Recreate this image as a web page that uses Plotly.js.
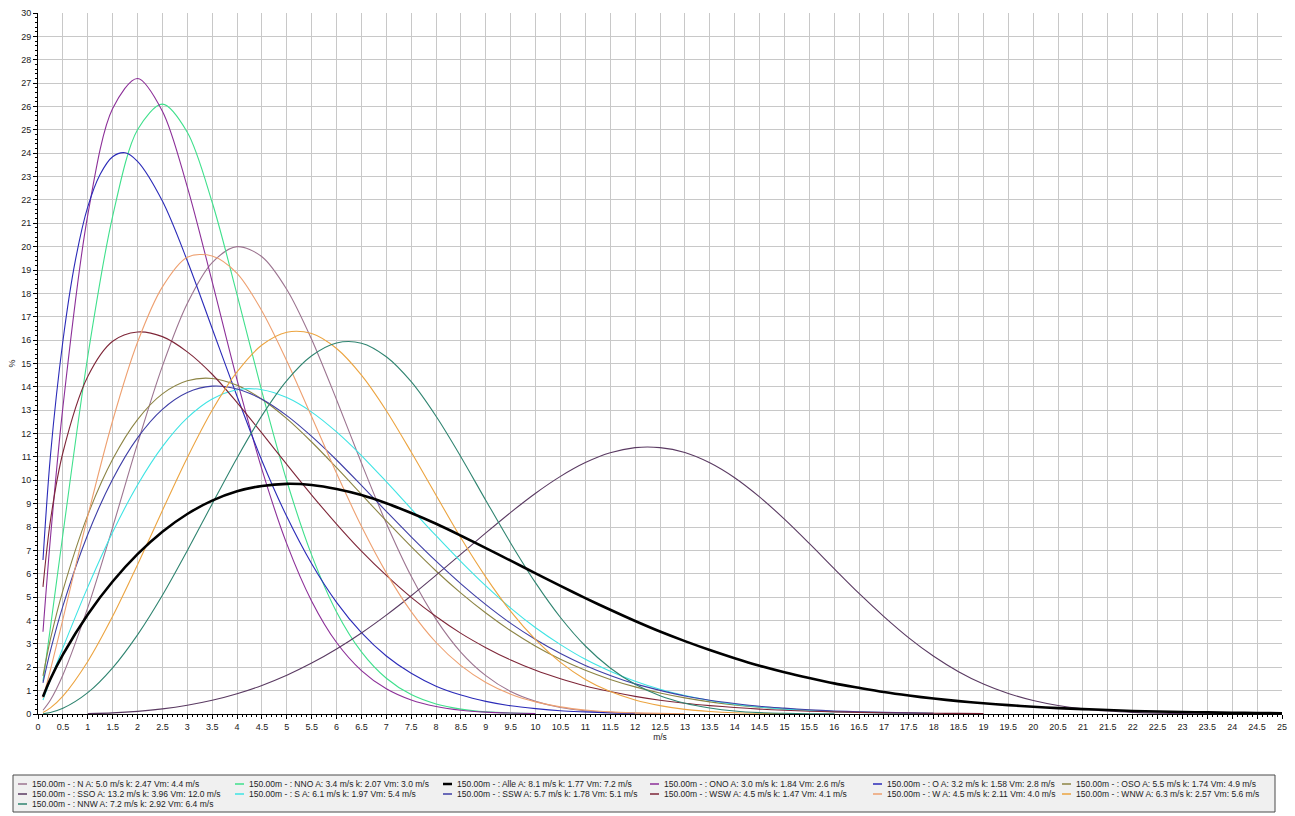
<!DOCTYPE html>
<html>
<head>
<meta charset="utf-8">
<script src="https://cdn.plot.ly/plotly-3.0.1.min.js"></script>
<style>
html,body{margin:0;padding:0;background:#fff;}
#chart{width:1295px;height:816px;}
</style>
</head>
<body>
<div id="chart"></div>
<script>
// Wind speed grid (m/s) shared by most series
const windSpeed = [0.1, 0.25, 0.5, 1, 1.5, 2, 2.5, 3, 3.5, 4, 4.5, 5, 5.5, 6, 6.5, 7, 7.5, 8, 8.5, 9, 9.5, 10,
  10.5, 11, 11.5, 12, 12.5, 13, 13.5, 14, 14.5, 15, 15.5, 16, 16.5, 17, 17.5, 18, 18.5, 19, 19.5, 20,
  20.5, 21, 21.5, 22, 22.5, 23, 23.5, 24, 24.5, 25];
const windSpeedO = [0.1, 0.25, 0.5, 0.75, 1, 1.25, 1.5, 1.75, 2, 2.5, 3, 3.5, 4, 4.5, 5, 5.5, 6, 6.5, 7, 7.5,
  8, 8.5, 9, 9.5, 10, 10.5, 11, 11.5, 12];
const windSpeedSSO = [1, 1.5, 2, 2.5, 3, 3.5, 4, 4.5, 5, 5.5, 6, 6.5, 7, 7.5, 8, 8.5, 9, 9.5, 10, 10.5, 11,
  11.5, 12, 12.5, 13, 13.5, 14, 14.5, 15, 15.5, 16, 16.5, 17, 17.5, 18, 18.5, 19, 19.5, 20, 20.5, 21,
  21.5, 22, 22.5, 23, 23.5, 24];

// Frequency (%) per direction
const freqN   = [0.16, 0.60, 1.67, 4.55, 7.99, 11.57, 14.89, 17.57, 19.32, 20.0, 19.57, 18.17, 16.03, 13.45, 10.74, 8.16, 5.89, 4.05, 2.64, 1.64, 0.96, 0.54, 0.28, 0.14, 0.07, 0.03, 0.01];
const freqNNO = [1.40, 3.71, 7.68, 15.3, 21.3, 25.0, 26.1, 24.9, 21.9, 17.95, 13.8, 9.97, 6.80, 4.37, 2.66, 1.53, 0.83, 0.43, 0.21, 0.09, 0.04, 0.02];
const freqAlle = [0.74, 1.50, 2.54, 4.26, 5.67, 6.84, 7.80, 8.56, 9.13, 9.53, 9.76, 9.85, 9.80, 9.63, 9.37, 9.02, 8.60, 8.14, 7.63, 7.10, 6.56, 6.02, 5.48, 4.96, 4.46, 3.98, 3.53, 3.12, 2.74, 2.39, 2.07, 1.79, 1.54, 1.31, 1.12, 0.94, 0.79, 0.66, 0.55, 0.46, 0.38, 0.31, 0.25, 0.21, 0.17, 0.13, 0.105, 0.086, 0.068, 0.054, 0.042, 0.033];
const freqONO = [3.52, 7.53, 13.12, 21.35, 25.91, 27.2, 25.8, 22.56, 18.50, 14.30, 10.47, 7.28, 4.83, 3.06, 1.86, 1.08, 0.60, 0.32, 0.16, 0.08, 0.04, 0.02];
const freqO   = [6.59, 11.05, 15.95, 19.4, 21.7, 23.1, 23.85, 24.02, 23.65, 21.95, 19.4, 16.5, 13.6, 10.84, 8.45, 6.43, 4.78, 3.48, 2.48, 1.74, 1.19, 0.81, 0.54, 0.35, 0.23, 0.14, 0.09, 0.05, 0.03];
const freqOSO = [1.63, 3.20, 5.28, 8.51, 10.90, 12.60, 13.70, 14.26, 14.36, 14.07, 13.47, 12.64, 11.64, 10.54, 9.40, 8.26, 7.16, 6.12, 5.17, 4.32, 3.56, 2.90, 2.34, 1.87, 1.48, 1.16, 0.90, 0.69, 0.52, 0.39, 0.29, 0.22, 0.16, 0.11, 0.08, 0.06, 0.045, 0.03];
const freqSSO = [0.015, 0.048, 0.113, 0.218, 0.373, 0.586, 0.868, 1.223, 1.659, 2.178, 2.782, 3.468, 4.232, 5.06, 5.94, 6.84, 7.75, 8.63, 9.45, 10.17, 10.76, 11.18, 11.40, 11.40, 11.19, 10.75, 10.11, 9.29, 8.34, 7.30, 6.22, 5.16, 4.17, 3.26, 2.47, 1.81, 1.28, 0.876, 0.575, 0.363, 0.22, 0.128, 0.071, 0.037, 0.018, 0.008, 0.003];
const freqS   = [0.60, 1.46, 2.83, 5.43, 7.78, 9.80, 11.44, 12.67, 13.48, 13.88, 13.88, 13.54, 12.92, 12.07, 11.06, 9.94, 8.78, 7.63, 6.52, 5.48, 4.53, 3.69, 2.97, 2.34, 1.83, 1.40, 1.06, 0.79, 0.58, 0.42, 0.30, 0.21, 0.15, 0.10, 0.07, 0.05, 0.035, 0.02];
const freqSSW = [1.33, 2.71, 4.62, 7.68, 10.05, 11.82, 13.04, 13.76, 14.03, 13.91, 13.47, 12.77, 11.88, 10.87, 9.78, 8.67, 7.58, 6.54, 5.57, 4.68, 3.88, 3.19, 2.59, 2.08, 1.65, 1.29, 1.01, 0.77, 0.59, 0.45, 0.33, 0.25, 0.18, 0.13, 0.095, 0.07, 0.05, 0.035];
const freqWSW = [5.44, 8.28, 11.18, 14.44, 15.95, 16.35, 16.15, 15.5, 14.54, 13.33, 12.02, 10.68, 9.37, 8.13, 6.97, 5.93, 4.99, 4.17, 3.45, 2.84, 2.31, 1.87, 1.51, 1.20, 0.96, 0.755, 0.59, 0.46, 0.36, 0.28, 0.21, 0.16, 0.12, 0.093, 0.07, 0.05, 0.04, 0.03, 0.025, 0.02];
const freqW   = [0.69, 1.89, 4.05, 8.47, 12.55, 15.91, 18.28, 19.55, 19.60, 18.86, 17.25, 15.11, 12.72, 10.30, 8.03, 6.04, 4.38, 3.06, 2.07, 1.35, 0.85, 0.52, 0.305, 0.17, 0.09, 0.05, 0.025, 0.01];
const freqWNW = [0.061, 0.26, 0.763, 2.25, 4.18, 6.39, 8.71, 10.97, 13.00, 14.64, 15.79, 16.34, 16.28, 15.64, 14.50, 12.98, 11.21, 9.36, 7.53, 5.86, 4.39, 3.18, 2.21, 1.48, 0.96, 0.60, 0.36, 0.20, 0.11, 0.055, 0.03, 0.01];
const freqNNW = [0.011, 0.064, 0.242, 0.913, 1.976, 3.387, 5.08, 6.99, 8.99, 10.96, 12.77, 14.27, 15.33, 15.88, 15.87, 15.29, 14.22, 12.74, 11.00, 9.14, 7.31, 5.61, 4.13, 2.91, 1.97, 1.27, 0.78, 0.46, 0.26, 0.13, 0.06, 0.03, 0.01, 0.005];

const legendNames = [
  '150.00m - : N A: 5.0 m/s k: 2.47 Vm: 4.4 m/s',
  '150.00m - : NNO A: 3.4 m/s k: 2.07 Vm: 3.0 m/s',
  '150.00m - : Alle A: 8.1 m/s k: 1.77 Vm: 7.2 m/s',
  '150.00m - : ONO A: 3.0 m/s k: 1.84 Vm: 2.6 m/s',
  '150.00m - : O A: 3.2 m/s k: 1.58 Vm: 2.8 m/s',
  '150.00m - : OSO A: 5.5 m/s k: 1.74 Vm: 4.9 m/s',
  '150.00m - : SSO A: 13.2 m/s k: 3.96 Vm: 12.0 m/s',
  '150.00m - : S A: 6.1 m/s k: 1.97 Vm: 5.4 m/s',
  '150.00m - : SSW A: 5.7 m/s k: 1.78 Vm: 5.1 m/s',
  '150.00m - : WSW A: 4.5 m/s k: 1.47 Vm: 4.1 m/s',
  '150.00m - : W A: 4.5 m/s k: 2.11 Vm: 4.0 m/s',
  '150.00m - : WNW A: 6.3 m/s k: 2.57 Vm: 5.6 m/s',
  '150.00m - : NNW A: 7.2 m/s k: 2.92 Vm: 6.4 m/s'
];
const seriesValues = [freqN, freqNNO, freqAlle, freqONO, freqO, freqOSO, freqSSO, freqS, freqSSW, freqWSW, freqW, freqWNW, freqNNW];
const seriesColors = ['#9c7490', '#3fe08c', '#000000', '#8c2f98', '#2a2ab8', '#8c8444', '#5a3a62', '#3ee4e4', '#3e3ea6', '#7e2638', '#eea070', '#eca440', '#2f8470'];

const traces = seriesValues.map((vals, i) => {
  let xs;
  if (i === 6) xs = windSpeedSSO;
  else if (i === 4) xs = windSpeedO;
  else xs = windSpeed.slice(0, vals.length);
  return {
    type: 'scatter', mode: 'lines',
    x: xs, y: vals,
    name: legendNames[i],
    showlegend: false,
    line: {color: seriesColors[i], width: i === 2 ? 2.6 : 1.1, shape: 'spline', smoothing: 0.9}
  };
});
// draw the "Alle" curve on top
const ordered = traces.filter((t, i) => i !== 2).concat([traces[2]]);

// ---- custom legend box (pixel layout converted to paper coords) ----
const M = {l: 38, r: 13, t: 13, b: 102};
const W = 1295, H = 816;
const pw = W - M.l - M.r, ph = H - M.t - M.b;
const px = v => (v - M.l) / pw;
const py = v => (H - M.b - v) / ph;
const colX = [18, 235, 443, 650, 873, 1062];
const rowY = [784, 794, 804];

const shapes = [{
  type: 'rect', xref: 'paper', yref: 'paper',
  x0: px(13), x1: px(1275), y0: py(775), y1: py(812),
  fillcolor: '#f0f0f0', line: {color: '#4a4a4a', width: 1}, layer: 'below'
}];
const annotations = [];
legendNames.forEach((name, i) => {
  const c = i % 6, r = Math.floor(i / 6);
  const x0 = colX[c], y0 = rowY[r];
  shapes.push({
    type: 'line', xref: 'paper', yref: 'paper',
    x0: px(x0), x1: px(x0 + 9), y0: py(y0), y1: py(y0),
    line: {color: seriesColors[i], width: i === 2 ? 2.5 : 1.5}
  });
  annotations.push({
    xref: 'paper', yref: 'paper', x: px(x0 + 12), y: py(y0),
    xanchor: 'left', yanchor: 'middle', showarrow: false,
    text: name, font: {family: 'Liberation Sans, Arial, sans-serif', size: 8.5, color: '#222'}
  });
});

const layout = {
  width: W, height: H,
  margin: M,
  paper_bgcolor: '#ffffff', plot_bgcolor: '#ffffff',
  font: {family: 'Liberation Sans, Arial, sans-serif', size: 9, color: '#222'},
  showlegend: false,
  shapes: shapes,
  annotations: annotations,
  xaxis: {
    range: [0, 25], dtick: 0.5, tick0: 0, showgrid: true, gridcolor: '#c8c8c8', gridwidth: 1,
    zeroline: false, showline: true, linecolor: '#000', linewidth: 1,
    ticks: 'outside', ticklen: 4, tickcolor: '#000', tickfont: {size: 9, color: '#222'},
    minor: {dtick: 0.1, ticks: 'outside', ticklen: 2, tickcolor: '#000', showgrid: false},
    title: {text: 'm/s', font: {size: 8.5, color: '#222'}, standoff: 2},
    automargin: false
  },
  yaxis: {
    range: [0, 30], dtick: 1, tick0: 0, showgrid: true, gridcolor: '#c8c8c8', gridwidth: 1,
    zeroline: false, showline: true, linecolor: '#000', linewidth: 1,
    ticks: 'outside', ticklen: 4, tickcolor: '#000', tickfont: {size: 9, color: '#222'},
    minor: {dtick: 0.2, ticks: 'outside', ticklen: 2, tickcolor: '#000', showgrid: false},
    title: {text: '%', font: {size: 9, color: '#222'}, standoff: 4},
    automargin: false
  }
};

Plotly.newPlot('chart', ordered, layout, {displayModeBar: false, staticPlot: true});
</script>
</body>
</html>
